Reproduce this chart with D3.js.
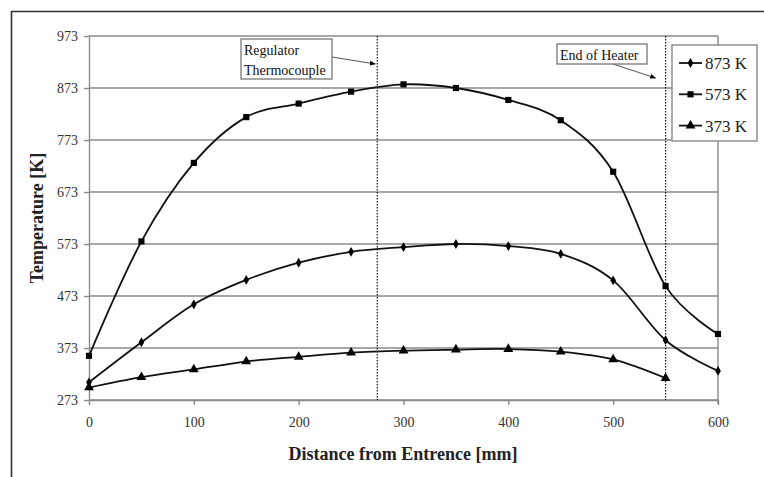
<!DOCTYPE html>
<html lang="en">
<head>
<meta charset="UTF-8">
<title>Temperature profile</title>
<script src="https://cdnjs.cloudflare.com/ajax/libs/d3/7.8.5/d3.min.js"></script>
<style>
    body { margin: 0; padding: 0; background: #fff; }
    svg { display: block; }
    svg text { font-family: "Liberation Serif", "Times New Roman", serif; }
    .grid line { stroke: #8a8a8a; stroke-width: 1.4px; }
    .tick-label { fill: #333; font-size: 14px; }
    .axis-title { font-size: 18px; font-weight: bold; fill: #222; }
</style>
</head>
<body>
<div id="chart"></div>
<script>
// distances along the tube [mm]
const distance = [0, 50, 100, 150, 200, 250, 300, 350, 400, 450, 500, 550, 600];

// measured temperatures [K] for each set point
const k873 = [307, 384, 457, 504, 537, 558, 567, 573, 569, 554, 503, 388, 329];
const k573 = [358, 578, 729, 817, 843, 866, 880, 873, 850, 811, 712, 492, 400];
const k373 = [297, 317, 332, 347, 356, 364, 368, 370, 371, 366, 351, 315];

const yTicks = [273, 373, 473, 573, 673, 773, 873, 973];
const xTicks = [0, 100, 200, 300, 400, 500, 600];

const seriesNames = ["873 K", "573 K", "373 K"];
const seriesValues = [k873, k573, k373];
const seriesSymbols = [d3.symbolDiamond, d3.symbolSquare, d3.symbolTriangle];
const symbolSizes = [28, 38, 42];

// vertical markers
const markers = [275, 550];

const width = 764, height = 477;
const plotL = 89, plotR = 718, plotT = 36, plotB = 400;
const serif = "'Liberation Serif', 'Times New Roman', serif";

const svg = d3.select("#chart").append("svg")
    .attr("width", width)
    .attr("height", height);

const x = d3.scaleLinear().domain([0, 600]).range([plotL, plotR]);
const y = d3.scaleLinear().domain([273, 973]).range([plotB, plotT]);

// outer frame (cut off at the right and bottom)
svg.append("path")
    .attr("d", `M11.5,${height} L11.5,11.5 L${width},11.5`)
    .attr("fill", "none")
    .attr("stroke", "#333")
    .attr("stroke-width", 1.6);

// gridlines
svg.append("g").attr("class", "grid")
    .selectAll("line")
    .data(yTicks)
    .enter().append("line")
    .attr("x1", plotL).attr("x2", plotR)
    .attr("y1", d => y(d)).attr("y2", d => y(d));

// right border of plot area
svg.append("line")
    .attr("x1", plotR).attr("x2", plotR)
    .attr("y1", plotT).attr("y2", plotB + 4)
    .attr("stroke", "#8a8a8a").attr("stroke-width", 1.4);

// y axis
const yAxis = svg.append("g")
    .attr("transform", `translate(${plotL},0)`)
    .call(d3.axisLeft(y).tickValues(yTicks).tickSize(5).tickSizeOuter(0));
yAxis.select(".domain").attr("stroke", "#8a8a8a").attr("stroke-width", 1.4);
yAxis.selectAll(".tick line").attr("stroke", "#8a8a8a").attr("stroke-width", 1.4);
yAxis.selectAll(".tick text")
    .attr("class", "tick-label")
    .attr("x", -11)
    .style("font-family", serif)
    .style("font-size", "14px");

// x axis
const xAxis = svg.append("g")
    .attr("transform", `translate(0,${plotB})`)
    .call(d3.axisBottom(x).tickValues(xTicks).tickSize(5).tickSizeOuter(0));
xAxis.select(".domain").attr("stroke", "#8a8a8a").attr("stroke-width", 1.4);
xAxis.selectAll(".tick line").attr("stroke", "#8a8a8a").attr("stroke-width", 1.4);
xAxis.selectAll(".tick text")
    .attr("class", "tick-label")
    .attr("y", 17)
    .style("font-family", serif)
    .style("font-size", "14px");

// dotted markers
svg.append("g")
    .selectAll("line")
    .data(markers)
    .enter().append("line")
    .attr("x1", d => x(d)).attr("x2", d => x(d))
    .attr("y1", plotT).attr("y2", plotB)
    .attr("stroke", "#111")
    .attr("stroke-width", 1.2)
    .attr("stroke-dasharray", "1.5,1.5");

// curves
const line = d3.line()
    .x((d, i) => x(distance[i]))
    .y(d => y(d))
    .curve(d3.curveCardinal.tension(0));

seriesValues.forEach((vals, s) => {
    svg.append("path")
        .datum(vals)
        .attr("fill", "none")
        .attr("stroke", "#111")
        .attr("stroke-width", 1.8)
        .attr("d", line);

    svg.append("g")
        .selectAll("path")
        .data(vals)
        .enter().append("path")
        .attr("d", d3.symbol().type(seriesSymbols[s]).size(symbolSizes[s]))
        .attr("transform", (d, i) => `translate(${x(distance[i])},${y(d)})`)
        .attr("fill", "#000");
});

// annotations
svg.append("defs").append("marker")
    .attr("id", "arrow")
    .attr("viewBox", "0 0 10 10")
    .attr("refX", 9).attr("refY", 5)
    .attr("markerWidth", 6).attr("markerHeight", 6)
    .attr("orient", "auto")
    .append("path")
    .attr("d", "M0,1 L10,5 L0,9 Z")
    .attr("fill", "#000");

function note(bx, by, bw, bh, lines, ax1, ay1, ax2, ay2) {
    svg.append("line")
        .attr("x1", ax1).attr("y1", ay1)
        .attr("x2", ax2).attr("y2", ay2)
        .attr("stroke", "#555")
        .attr("stroke-width", 1)
        .attr("marker-end", "url(#arrow)");
    svg.append("rect")
        .attr("x", bx).attr("y", by)
        .attr("width", bw).attr("height", bh)
        .attr("fill", "#fff")
        .attr("stroke", "#777")
        .attr("stroke-width", 1.3);
    lines.forEach((t, i) => {
        svg.append("text")
            .attr("x", bx + 3)
            .attr("y", by + 16 + i * 20)
            .style("font-family", serif)
            .style("font-size", "14px")
            .attr("fill", "#111")
            .text(t);
    });
}

note(241, 39, 91, 40, ["Regulator", "Thermocouple"], 332, 57, x(markers[0]) - 2, 64);
note(557, 44, 90, 20, ["End of Heater"], 613, 64, x(markers[1]) - 10, 78);

// legend
const legend = svg.append("g").attr("transform", "translate(672,45)");
legend.append("rect")
    .attr("width", 85).attr("height", 96)
    .attr("fill", "#fff")
    .attr("stroke", "#888")
    .attr("stroke-width", 1.4);

seriesNames.forEach((name, i) => {
    const ly = 18 + i * 31.3;
    legend.append("line")
        .attr("x1", 7).attr("x2", 30)
        .attr("y1", ly).attr("y2", ly)
        .attr("stroke", "#111").attr("stroke-width", 1.8);
    legend.append("path")
        .attr("d", d3.symbol().type(seriesSymbols[i]).size(symbolSizes[i]))
        .attr("transform", `translate(18.5,${ly})`)
        .attr("fill", "#000");
    legend.append("text")
        .attr("x", 33).attr("y", ly + 6)
        .style("font-family", serif)
        .style("font-size", "17px")
        .attr("fill", "#222")
        .text(name);
});

// axis titles
svg.append("text")
    .attr("class", "axis-title")
    .attr("x", 403).attr("y", 460)
    .attr("text-anchor", "middle")
    .style("font-family", serif)
    .text("Distance from Entrence [mm]");

svg.append("text")
    .attr("class", "axis-title")
    .attr("transform", "translate(43,218) rotate(-90)")
    .attr("text-anchor", "middle")
    .style("font-family", serif)
    .text("Temperature [K]");
</script>
</body>
</html>
